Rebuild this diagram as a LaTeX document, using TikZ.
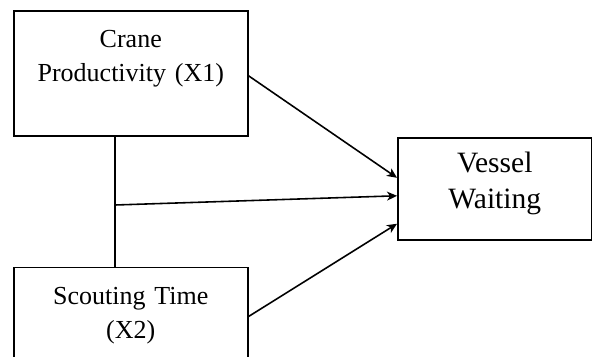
\documentclass[tikz,border=0pt]{standalone}
\usepackage{fontspec}
\setmainfont{Liberation Serif}
\usepackage{tikz}
\usetikzlibrary{arrows.meta,positioning}

\tikzset{
    varbox/.style={draw, line width=0.9pt, inner sep=0pt, align=center,
        text width=4.68cm, text height=0.74cm, text depth=1.76cm,
        font=\fontsize{14.8}{19.4}\selectfont},
    outbox/.style={draw, line width=0.9pt, inner sep=0pt, align=center,
        text width=3.88cm, text height=0.70cm, text depth=1.34cm,
        font=\fontsize{16.8}{20.5}\selectfont},
    link/.style={line width=0.9pt},
    effect/.style={line width=0.9pt, -{Stealth[length=2mm,width=1.8mm,inset=0.6mm]}}
}

\begin{document}
\begin{tikzpicture}[x=0.02cm,y=-0.02cm]

\clip (0,0) rectangle (592,356);

\node [varbox, anchor=north west] (crane) at (13,10) {Crane\\Productivity (X1)};
\node [varbox, below=2.6cm of crane] (scout) {Scouting Time\\(X2)};
\node [outbox, anchor=north west] (vessel) at (397,137) {Vessel\\Waiting};

% joint link between the two variables
\coordinate (joint) at ([xshift=2.04cm]crane.south west);
\coordinate (jointmid) at (115,205);
\draw [link] (joint) -- (joint |- scout.north);

\draw [effect] ([yshift=-0.05cm]crane.east) -- ([yshift=0.22cm]vessel.west);
\draw [effect] (jointmid) -- ([yshift=-0.14cm]vessel.west);
\draw [effect] ([yshift=-1cm]scout.north east) -- ([yshift=-0.7cm]vessel.west);

\end{tikzpicture}
\end{document}
